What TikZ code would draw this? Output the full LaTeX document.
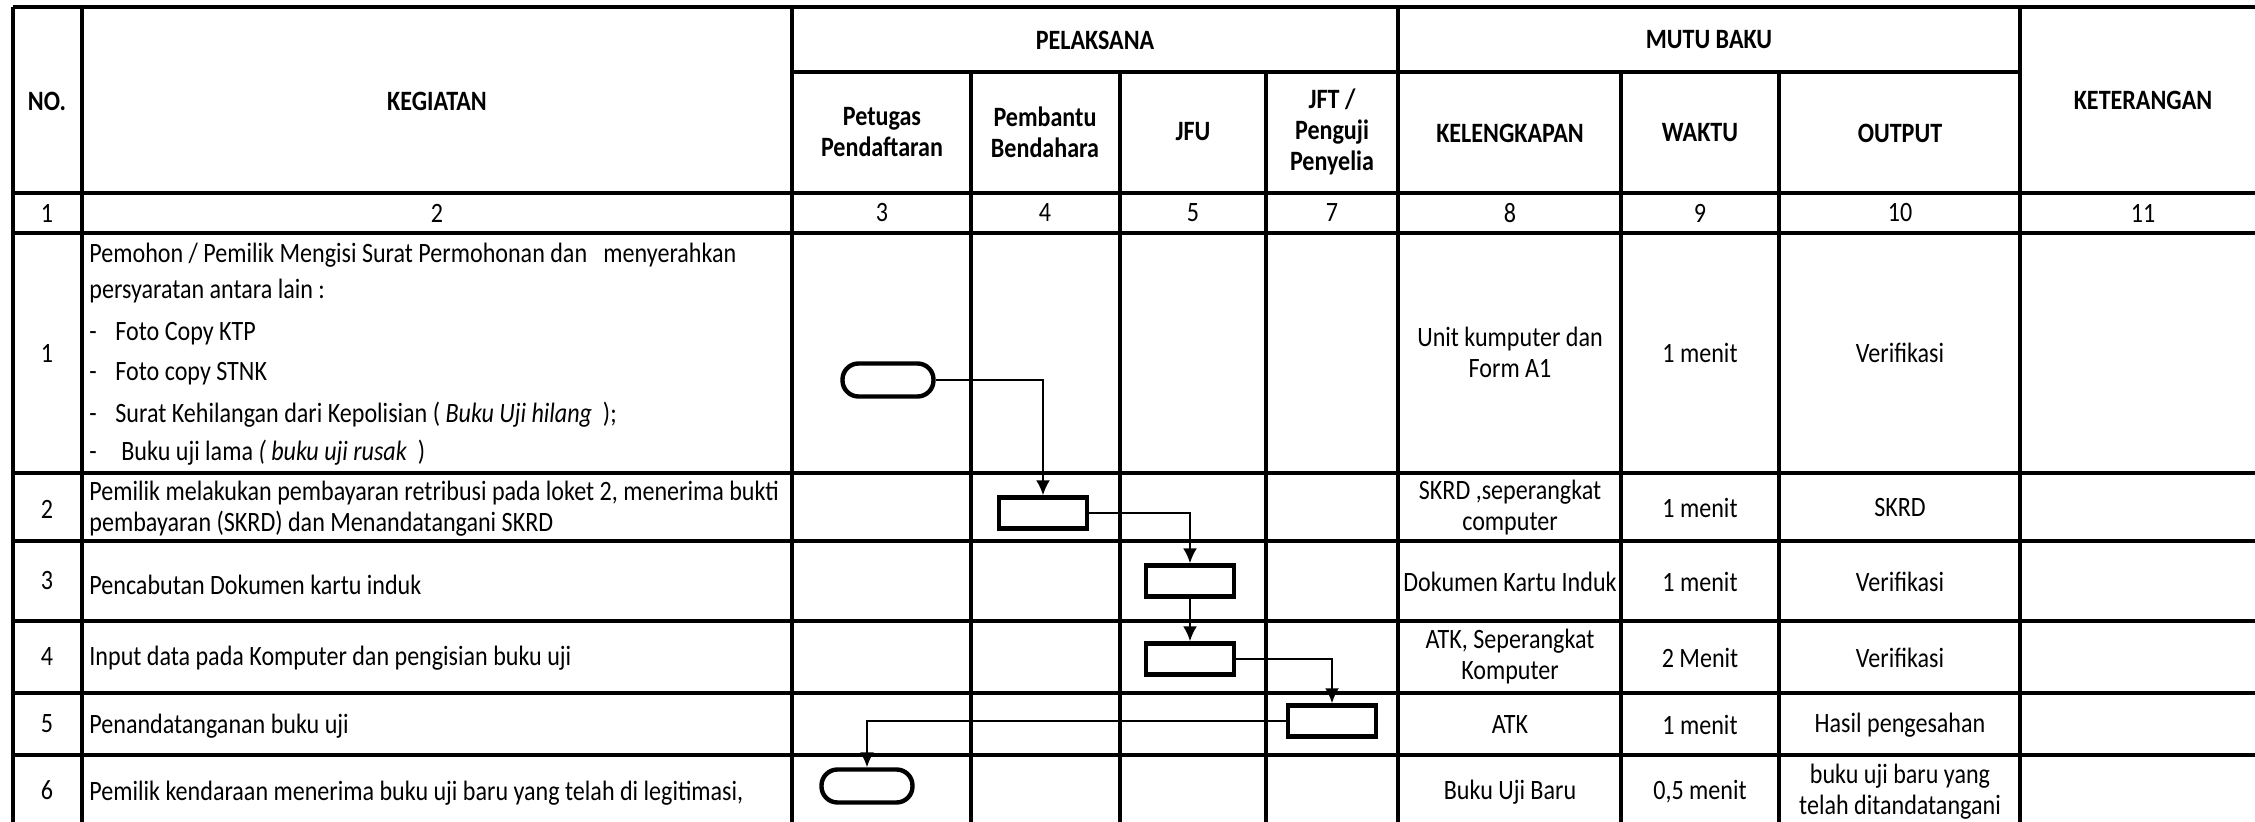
\documentclass[tikz,border=0pt]{standalone}
\usepackage{fontspec}
\setmainfont{Carlito}[FakeStretch=0.86]
\usetikzlibrary{arrows.meta}
\newcommand{\cellfont}{\fontsize{14}{15.5}\selectfont}

\begin{document}
\begin{tikzpicture}[x=0.5pt,y=-0.5pt,
    every node/.style={inner sep=0pt,font=\cellfont},
    hd/.style={font=\cellfont\bfseries,align=center},
    cell/.style={align=center}, kg/.style={anchor=west},
    rule/.style={line width=1.6pt},
    proc/.style={draw,line width=2.2pt,minimum width=44pt,minimum height=15.5pt},
    term/.style={proc,rounded corners=8pt,minimum width=45.5pt,minimum height=16.5pt},
    flow/.style={-{Latex[length=7.5pt,width=7pt]},line width=1.1pt}]
    \useasboundingbox (0,0) rectangle (2255,822); \clip (0,0) rectangle (2255,822);
    \draw [rule] (13,7) -- (2270,7); \draw [rule] (792,72) -- (2020,72);
    \foreach \y in {193,233,473,541,621,693,755} \draw [rule] (13,\y) -- (2270,\y);
    \foreach \x in {13,82,792,1398,2020} \draw [rule] (\x,7) -- (\x,840);
    \foreach \x in {971,1120,1266,1621,1779} \draw [rule] (\x,72) -- (\x,840);
    \node [hd] (hno) at (47,101) {NO.}; \node [hd] (hkeg) at (437,101) {KEGIATAN};
    \node [hd] (hpel) at (1095,40) {PELAKSANA}; \node [hd] (hmutu) at (1709,40) {MUTU BAKU};
    \node [hd] (hket) at (2143,100) {KETERANGAN};
    \node [hd] (hpet) at (882,132) {Petugas\\Pendaftaran};
    \node [hd] (hpem) at (1045,132) {Pembantu\\Bendahara};
    \node [hd] (hjfu) at (1193,132) {JFU}; \node [hd] (hjft) at (1332,132) {JFT /\\Penguji\\Penyelia};
    \node [hd] (hkel) at (1510,133) {KELENGKAPAN}; \node [hd] (hwak) at (1700,133) {WAKTU};
    \node [hd] (hout) at (1900,133) {OUTPUT};
    \foreach \x/\n in {47/1,437/2,882/3,1045/4,1193/5,1332/7,1510/8,1700/9,1900/10,2143/11}
      \node (n\n) at (\x,213) {\n};
    \foreach \y/\n in {353/1,509/2,581/3,657/4,724/5,790/6} \node (r\n) at (47,\y) {\n};
    \node [kg] (k1a) at (89,255) {Pemohon / Pemilik Mengisi Surat Permohonan dan\ \ \ menyerahkan};
    \node [kg] (k1b) at (89,291) {persyaratan antara lain :};
    \node [kg] (k1c) at (89,334) {\makebox[13pt][l]{-}Foto Copy KTP};
    \node [kg] (k1d) at (89,374) {\makebox[13pt][l]{-}Foto copy STNK};
    \node [kg] (k1e) at (89,415) {\makebox[13pt][l]{-}Surat Kehilangan dari Kepolisian ( \textit{Buku Uji hilang}\ \ );};
    \node [kg] (k1f) at (89,453) {\makebox[16pt][l]{-}Buku uji lama \textit{( buku uji rusak}\ \ )};
    \node [kg] (k2a) at (89,493) {Pemilik melakukan pembayaran retribusi pada loket 2, menerima bukti};
    \node [kg] (k2b) at (89,524) {pembayaran (SKRD) dan Menandatangani SKRD};
    \node [kg] (k3) at (89,585) {Pencabutan Dokumen kartu induk};
    \node [kg] (k4) at (89,658) {Input data pada Komputer dan pengisian buku uji};
    \node [kg] (k5) at (89,726) {Penandatanganan buku uji};
    \node [kg] (k6) at (89,793) {Pemilik kendaraan menerima buku uji baru yang telah di legitimasi,};
    \node [cell] (m1) at (1510,352) {Unit kumputer dan\\Form A1};
    \node (w1) at (1700,353) {1 menit}; \node (o1) at (1900,353) {Verifikasi};
    \node [cell] (m2) at (1510,508) {SKRD ,seperangkat\\computer};
    \node (w2) at (1700,508) {1 menit}; \node (o2) at (1900,508) {SKRD};
    \node (m3) at (1510,582) {Dokumen Kartu Induk};
    \node (w3) at (1700,582) {1 menit}; \node (o3) at (1900,582) {Verifikasi};
    \node [cell] (m4) at (1510,657) {ATK, Seperangkat\\Komputer};
    \node (w4) at (1700,658) {2 Menit}; \node (o4) at (1900,658) {Verifikasi};
    \node (m5) at (1510,725) {ATK}; \node (w5) at (1700,725) {1 menit};
    \node (o5) at (1900,725) {Hasil pengesahan};
    \node (m6) at (1510,792) {Buku Uji Baru}; \node (w6) at (1700,792) {0,5 menit};
    \node [cell] (o6) at (1900,792) {buku uji baru yang\\telah ditandatangani};
    \node [term] (t1) at (888,380) {}; \node [proc] (b2) at (1043,513) {};
    \node [proc] (b3) at (1190,581) {}; \node [proc] (b4) at (1190,659) {};
    \node [proc] (b5) at (1332,721) {}; \node [term] (t6) at (867,786) {};
    \draw [flow] (t1.east) -| (b2.north); \draw [flow] (b2.east) -| (b3.north);
    \draw [flow] (b3) -- (b4); \draw [flow] (b4.east) -| (b5.north);
    \draw [flow] (b5.west) -| (t6.north);
  \end{tikzpicture}
\end{document}
